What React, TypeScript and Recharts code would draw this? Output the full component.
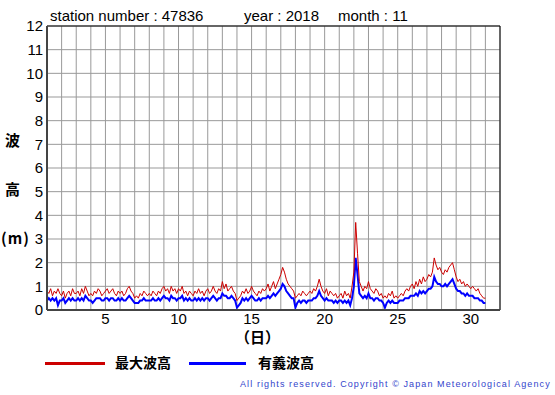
import React from 'react';
import { LineChart, Line, XAxis, YAxis, CartesianGrid, ReferenceArea } from 'recharts';

// 3-hourly samples, 8 per day, from 1st 00h to 31st 00h (m)
const maxWave = [
  0.8, 0.7, 0.9, 0.6, 0.8, 0.7, 0.9, 0.7,
  0.6, 0.8, 0.5, 0.7, 0.8, 0.6, 0.9, 0.7,
  0.7, 0.8, 0.6, 0.9, 0.7, 1.0, 0.8, 0.6,
  0.7, 0.6, 0.8, 0.7, 0.9, 0.8, 0.6, 0.7,
  0.8, 0.9, 0.7, 0.8, 0.9, 0.7, 0.6, 0.8,
  0.7, 0.8, 0.6, 0.7, 0.9, 1.0, 0.8, 0.7,
  0.5, 0.6, 0.5, 0.7, 0.6, 0.8, 0.7, 0.6,
  0.7, 0.6, 0.8, 0.7, 0.6, 0.8, 0.7, 0.9,
  1.0, 0.8, 0.9, 0.7, 1.0, 0.8, 0.9, 0.7,
  0.9, 0.8, 1.0, 0.7, 0.8, 0.6, 0.8, 0.7,
  0.6, 0.8, 0.7, 0.9, 0.7, 0.8, 0.6, 0.8,
  0.9, 0.7, 0.8, 1.0, 0.8, 0.7, 0.9, 0.8,
  1.2, 0.9, 1.1, 0.8, 0.9, 1.0, 0.8, 0.7,
  0.4, 0.5, 0.6, 0.8, 0.7, 0.9, 0.7, 0.8,
  1.0, 0.8, 0.7, 0.6, 0.8, 0.7, 0.9, 0.8,
  0.9, 1.1, 0.8, 1.0, 1.2, 0.9, 1.1, 1.3,
  1.5, 1.8, 1.6, 1.3, 1.1, 1.0, 0.9, 0.8,
  0.5, 0.6, 0.7, 0.6, 0.8, 0.7, 0.6, 0.7,
  0.8, 0.7, 0.9, 0.8, 1.0, 1.3, 1.0, 0.8,
  0.7, 0.9, 0.6, 0.8, 0.7, 0.6, 0.7, 0.5,
  0.6, 0.7, 0.5, 0.8, 0.6, 0.7, 0.5, 1.0,
  1.6, 3.7, 2.4, 1.2, 1.0, 0.8, 1.0, 0.9,
  1.2, 0.9, 0.8, 0.7, 0.9, 0.8, 0.6, 0.7,
  0.5, 0.6, 0.5, 0.7, 0.6, 0.8, 0.5, 0.6,
  0.5, 0.6, 0.7, 0.6, 0.8, 0.9, 0.8, 1.0,
  1.1, 0.9, 1.2, 1.0, 1.3, 1.1, 1.4, 1.2,
  1.3, 1.5, 1.4, 1.6, 2.2, 1.9, 1.7, 1.8,
  1.6, 1.5, 1.7, 1.6, 1.8, 1.9, 2.0, 1.7,
  1.4, 1.2, 1.3, 1.1, 1.2, 1.0, 1.1, 1.0,
  0.9, 1.0, 0.9, 0.8, 0.9, 0.7, 0.6, 0.5,
  0.5,
];

const sigWave = [
  0.4, 0.5, 0.4, 0.5, 0.4, 0.5, 0.2, 0.4,
  0.4, 0.5, 0.3, 0.4, 0.5, 0.4, 0.5, 0.4,
  0.4, 0.5, 0.4, 0.5, 0.4, 0.6, 0.5, 0.4,
  0.4, 0.3, 0.4, 0.5, 0.5, 0.5, 0.4, 0.4,
  0.5, 0.5, 0.4, 0.5, 0.5, 0.4, 0.4, 0.5,
  0.4, 0.5, 0.4, 0.4, 0.5, 0.6, 0.5, 0.4,
  0.3, 0.3, 0.3, 0.4, 0.4, 0.5, 0.4, 0.4,
  0.4, 0.4, 0.5, 0.4, 0.4, 0.5, 0.4, 0.5,
  0.6, 0.5, 0.5, 0.4, 0.6, 0.5, 0.5, 0.4,
  0.5, 0.5, 0.6, 0.4, 0.5, 0.4, 0.5, 0.4,
  0.4, 0.5, 0.4, 0.5, 0.4, 0.5, 0.4, 0.5,
  0.5, 0.4, 0.5, 0.6, 0.5, 0.4, 0.5, 0.5,
  0.7, 0.6, 0.6, 0.5, 0.5, 0.6, 0.5, 0.4,
  0.1, 0.2, 0.3, 0.5, 0.4, 0.5, 0.4, 0.5,
  0.6, 0.5, 0.4, 0.4, 0.5, 0.4, 0.5, 0.5,
  0.5, 0.6, 0.5, 0.6, 0.7, 0.6, 0.7, 0.8,
  0.9, 1.1, 1.0, 0.8, 0.7, 0.6, 0.5, 0.5,
  0.1, 0.3, 0.4, 0.3, 0.4, 0.4, 0.3, 0.4,
  0.4, 0.4, 0.5, 0.5, 0.6, 0.8, 0.6, 0.5,
  0.4, 0.5, 0.4, 0.4, 0.4, 0.3, 0.4, 0.3,
  0.4, 0.4, 0.3, 0.4, 0.3, 0.4, 0.2, 0.5,
  1.0, 2.2, 1.5, 0.7, 0.6, 0.5, 0.6, 0.5,
  0.7, 0.5, 0.5, 0.4, 0.5, 0.5, 0.4, 0.4,
  0.3, 0.1, 0.3, 0.4, 0.3, 0.4, 0.3, 0.3,
  0.3, 0.4, 0.4, 0.4, 0.5, 0.5, 0.5, 0.6,
  0.6, 0.6, 0.7, 0.6, 0.8, 0.7, 0.8, 0.7,
  0.8, 0.9, 0.9, 1.0, 1.4, 1.2, 1.1, 1.1,
  1.0, 1.0, 1.1, 1.0, 1.1, 1.2, 1.3, 1.1,
  0.9, 0.8, 0.8, 0.7, 0.7, 0.6, 0.7, 0.6,
  0.6, 0.6, 0.5, 0.5, 0.5, 0.4, 0.4, 0.3,
  0.3,
];

const dayTicks = [1, 2, 3, 4, 5, 6, 7, 8, 9, 10, 11, 12, 13, 14, 15, 16, 17, 18, 19, 20, 21, 22, 23, 24, 25, 26, 27, 28, 29, 30, 31, 32];
const dayLabels = [5, 10, 15, 20, 25, 30];
const heightTicks = [0, 1, 2, 3, 4, 5, 6, 7, 8, 9, 10, 11, 12];

const SAMPLES_PER_DAY = 8;
const data = maxWave.map((v, i) => ({ day: 1 + i / SAMPLES_PER_DAY, max: v, sig: sigWave[i] }));

const RED = '#cc0000';
const BLUE = '#0000ff';
const font = '"Liberation Sans", Arial, sans-serif';
const jp = '"Noto Sans CJK JP", sans-serif';

const abs = (left: number, top: number, extra: React.CSSProperties = {}): React.CSSProperties => ({
  position: 'absolute', left, top, whiteSpace: 'nowrap', lineHeight: 1, ...extra,
});

export default function App() {
  return (
    <div style={{ position: 'absolute', left: 0, top: 0, width: 555, height: 395, background: '#fff', fontFamily: font }}>
      <LineChart width={555} height={395} data={data} margin={{ top: 26, right: 55, left: 0, bottom: 0 }}>
        <CartesianGrid stroke="#999" strokeWidth={1} />
        <XAxis
          dataKey="day"
          type="number"
          domain={[1, 32]}
          ticks={dayTicks}
          interval={0}
          height={85}
          tickLine={false}
          tickSize={0}
          tickMargin={3}
          axisLine={{ stroke: '#444', strokeWidth: 2 }}
          tickFormatter={(d: number) => (dayLabels.includes(d) ? String(d) : '')}
          tick={{ fill: '#000', fontSize: 15, fontFamily: font }}
        />
        <YAxis
          type="number"
          domain={[0, 12]}
          ticks={heightTicks}
          interval={0}
          width={47}
          tickLine={false}
          tickSize={0}
          tickMargin={4}
          axisLine={{ stroke: '#444', strokeWidth: 2 }}
          tick={{ fill: '#000', fontSize: 15, fontFamily: font }}
        />
        <ReferenceArea x1={1} x2={32} y1={0} y2={12} fill="none" stroke="#000" strokeWidth={1} fillOpacity={0} />
        <Line dataKey="sig" stroke={BLUE} strokeWidth={2} dot={false} isAnimationActive={false} type="linear" />
        <Line dataKey="max" stroke={RED} strokeWidth={1} dot={false} isAnimationActive={false} type="linear" />
      </LineChart>

      <div style={abs(50, 8, { fontSize: 15 })}>station number : 47836</div>
      <div style={abs(244, 8, { fontSize: 15 })}>year : 2018</div>
      <div style={abs(338, 8, { fontSize: 15 })}>month : 11</div>

      <div style={abs(5, 132, { fontSize: 15, fontFamily: jp, fontWeight: 700 })}>波</div>
      <div style={abs(5, 181, { fontSize: 15, fontFamily: jp, fontWeight: 700 })}>高</div>
      <div style={abs(1, 230, { fontSize: 15, fontFamily: jp, fontWeight: 700, letterSpacing: 1 })}>(m)</div>

      <div style={abs(235, 329, { fontSize: 15, fontFamily: jp, fontWeight: 700 })}>（日）</div>

      <div style={abs(45, 362, { width: 60, height: 3, background: RED })} />
      <div style={abs(115, 355, { fontSize: 14, fontFamily: jp, fontWeight: 700 })}>最大波高</div>
      <div style={abs(189, 362, { width: 57, height: 3, background: BLUE })} />
      <div style={abs(258, 355, { fontSize: 14, fontFamily: jp, fontWeight: 700 })}>有義波高</div>

      <div style={abs(240, 380, { fontSize: 9, letterSpacing: 1.1, color: '#3344cc' })}>
        All rights reserved. Copyright © Japan Meteorological Agency
      </div>
    </div>
  );
}
